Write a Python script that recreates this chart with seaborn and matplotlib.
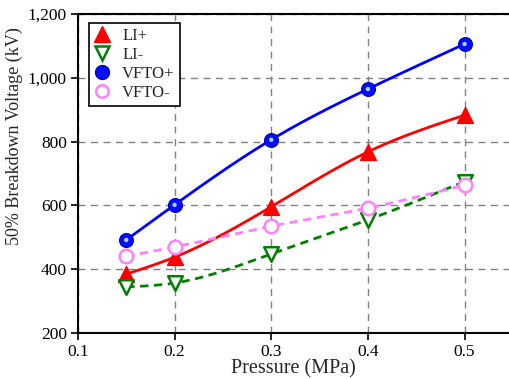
import numpy as np
import pandas as pd
import matplotlib
matplotlib.use("Agg")
import matplotlib.pyplot as plt
from matplotlib.lines import Line2D
import seaborn as sns

pressure = [0.15, 0.2, 0.3, 0.4, 0.5]
li_pos = [385, 438, 596, 768, 883]
li_neg = [345, 357, 448, 555, 675]
vfto_pos = [492, 602, 806, 965, 1106]
vfto_neg = [441, 470, 535, 592, 664]

series = ["LI+", "LI-", "VFTO+", "VFTO-"]
values = [li_pos, li_neg, vfto_pos, vfto_neg]
colors = ["#ff0000", "#008000", "#0000ff", "#ff80ff"]
dashes = [False, True, False, True]

yticks = [200, 400, 600, 800, 1000, 1200]
xticks = [0.1, 0.2, 0.3, 0.4, 0.5]


def natural_spline(x, y, xs):
    x = np.asarray(x, float)
    y = np.asarray(y, float)
    n = len(x)
    h = np.diff(x)
    A = np.zeros((n, n))
    b = np.zeros(n)
    A[0, 0] = A[-1, -1] = 1
    for i in range(1, n - 1):
        A[i, i - 1] = h[i - 1]
        A[i, i] = 2 * (h[i - 1] + h[i])
        A[i, i + 1] = h[i]
        b[i] = 3 * ((y[i + 1] - y[i]) / h[i] - (y[i] - y[i - 1]) / h[i - 1])
    c = np.linalg.solve(A, b)
    out = np.empty_like(xs)
    for k, xv in enumerate(xs):
        i = min(np.searchsorted(x, xv, side="right") - 1, n - 2)
        i = max(i, 0)
        dx = xv - x[i]
        bi = (y[i + 1] - y[i]) / h[i] - h[i] * (2 * c[i] + c[i + 1]) / 3
        di = (c[i + 1] - c[i]) / (3 * h[i])
        out[k] = y[i] + bi * dx + c[i] * dx ** 2 + di * dx ** 3
    return out


sns.set_theme(style="white")
plt.rcParams["font.family"] = ["Liberation Serif", "DejaVu Serif"]

fig = plt.figure(figsize=(5.09, 3.79), dpi=100)
ax = fig.add_axes([0.153, 0.121, 0.847, 0.842])

xs = np.linspace(pressure[0], pressure[-1], 200)
for name, vals, col, dash in zip(series, values, colors, dashes):
    curve = pd.DataFrame({"x": xs, "y": natural_spline(pressure, vals, xs)})
    sns.lineplot(data=curve, x="x", y="y", ax=ax, color=col, lw=2,
                 linestyle=(0, (3, 2)) if dash else "-", zorder=3)

pts = pd.DataFrame({"x": pressure, "y": li_pos})
sns.scatterplot(data=pts, x="x", y="y", ax=ax, marker="^", s=130,
                color="#ff0000", edgecolor="#ff0000", linewidth=1, zorder=5)
pts = pd.DataFrame({"x": pressure, "y": li_neg})
sns.scatterplot(data=pts, x="x", y="y", ax=ax, marker="v", s=110,
                facecolor="white", edgecolor="#008000", linewidth=1.8, zorder=5)
pts = pd.DataFrame({"x": pressure, "y": vfto_pos})
sns.scatterplot(data=pts, x="x", y="y", ax=ax, marker="o", s=100,
                color="#0010ff", edgecolor="#0000c0", linewidth=0.8, zorder=5)
sns.scatterplot(data=pts, x="x", y="y", ax=ax, marker="o", s=10,
                color="#c0c8ff", edgecolor="none", linewidth=0, zorder=6)
pts = pd.DataFrame({"x": pressure, "y": vfto_neg})
sns.scatterplot(data=pts, x="x", y="y", ax=ax, marker="o", s=95,
                facecolor="white", edgecolor="#ff80ff", linewidth=1.8, zorder=5)

ax.set_xlim(0.1, 0.546)
ax.set_ylim(200, 1200)
ax.set_xticks(xticks)
ax.set_xticklabels([f"{t:.1f}" for t in xticks])
ax.set_yticks(yticks)
ax.set_yticklabels([f"{t:,}" for t in yticks])
ax.grid(True, color="#808080", linestyle=(0, (5, 4)), lw=1)
ax.tick_params(axis="both", direction="out", length=5, width=1.2,
               labelsize=12.5, colors="black", pad=3, bottom=True, left=True)
for side in ["left", "bottom", "top"]:
    ax.spines[side].set_color("black")
    ax.spines[side].set_linewidth(1.5)
ax.spines["right"].set_visible(False)
ax.set_xlabel("Pressure (MPa)", fontsize=14.5, labelpad=-1)
ax.set_ylabel("50% Breakdown Voltage (kV)", fontsize=13)
ax.yaxis.set_label_coords(-0.128, 0.617)

handles = [
    Line2D([], [], ls="none", marker="^", ms=11, color="#ff0000"),
    Line2D([], [], ls="none", marker="v", ms=10, mfc="white", mec="#008000", mew=1.8),
    Line2D([], [], ls="none", marker="o", ms=10, mfc="#0010ff", mec="#0000c0"),
    Line2D([], [], ls="none", marker="o", ms=9, mfc="white", mec="#ff80ff", mew=1.8),
]
leg = ax.legend(handles, series, loc="upper left",
                bbox_to_anchor=(11 / 431, 1 - 9 / 319), borderaxespad=0,
                fontsize=12, frameon=True, fancybox=False, edgecolor="black",
                framealpha=1, handlelength=1.0, handletextpad=0.7,
                labelspacing=0.18, borderpad=0.3)
leg.get_frame().set_linewidth(1.2)

fig.savefig("out.png", dpi=100)
